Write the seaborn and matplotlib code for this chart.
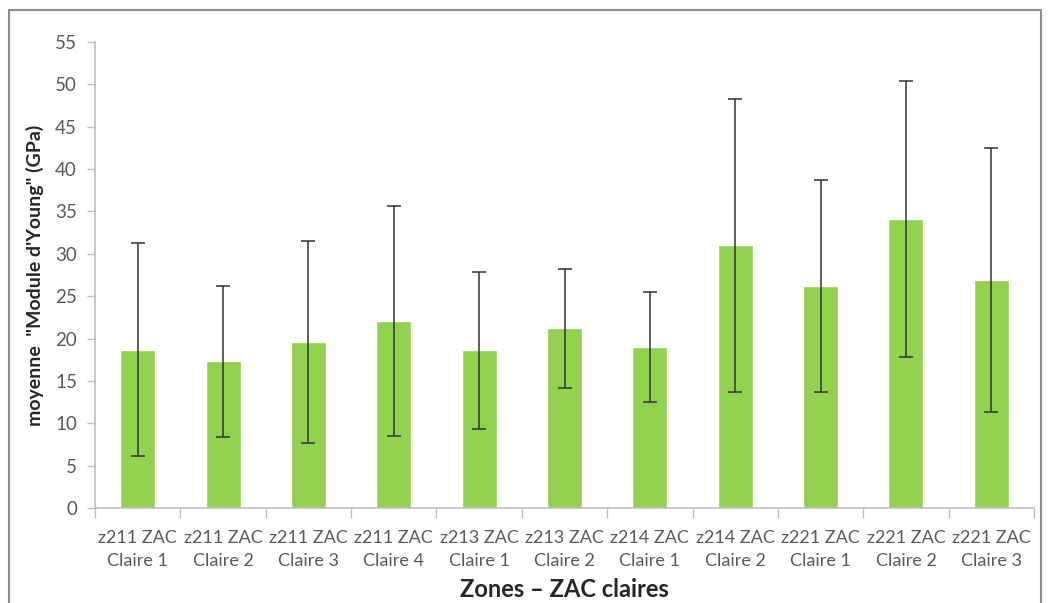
import numpy as np
import pandas as pd
import seaborn as sns
import matplotlib.pyplot as plt
from matplotlib.patches import Rectangle

# valeurs
zones = ["z211 ZAC\nClaire 1", "z211 ZAC\nClaire 2", "z211 ZAC\nClaire 3",
         "z211 ZAC\nClaire 4", "z213 ZAC\nClaire 1", "z213 ZAC\nClaire 2",
         "z214 ZAC\nClaire 1", "z214 ZAC\nClaire 2", "z221 ZAC\nClaire 1",
         "z221 ZAC\nClaire 2", "z221 ZAC\nClaire 3"]
moyenne = [18.7, 17.3, 19.6, 22.1, 18.6, 21.2, 19.0, 31.0, 26.2, 34.1, 26.9]
ecart_type = [12.6, 8.9, 11.9, 13.6, 9.3, 7.0, 6.5, 17.3, 12.5, 16.3, 15.6]

df = pd.DataFrame({"zone": zones, "moyenne": moyenne, "sd": ecart_type})

sns.set_style("white")
plt.rcParams['font.family'] = ['Lato', 'DejaVu Sans']

fig = plt.figure(figsize=(10.49, 6.03), dpi=100)
ax = fig.add_axes([95 / 1049, 1 - 508 / 603, 939 / 1049, 466 / 603])

sns.barplot(data=df, x="zone", y="moyenne", color="#92D050", saturation=1,
            width=0.41, errorbar=None, ax=ax)
ax.errorbar(x=np.arange(len(zones)), y=df["moyenne"], yerr=df["sd"],
            fmt="none", ecolor="#333333", elinewidth=1.1, capsize=5, capthick=1.1)

ax.set_ylim(0, 55)
ax.set_yticks(np.arange(0, 56, 5))
ax.set_xlim(-0.5, len(zones) - 0.5)

# axes style Excel
for s in ["top", "right"]:
    ax.spines[s].set_visible(False)
for s in ["left", "bottom"]:
    ax.spines[s].set_color("#bfbfbf")
    ax.spines[s].set_linewidth(1.2)

ax.tick_params(axis="y", direction="out", length=6, width=1, color="#bfbfbf",
               labelsize=13.5, labelcolor="#595959", pad=7, left=True)
ax.set_xticks(np.arange(len(zones)))
ax.set_xticklabels(zones, linespacing=1.5)
ax.set_xticks(np.arange(-0.5, len(zones)), minor=True)
ax.tick_params(axis="x", which="major", length=0, labelsize=13,
               labelcolor="#595959", pad=16)
ax.tick_params(axis="x", which="minor", direction="out", length=7, width=1,
               color="#bfbfbf", bottom=True)

ax.set_ylabel('moyenne  "Module d\'Young" (GPa)', fontsize=14, fontweight="bold",
              labelpad=8)
ax.set_xlabel("Zones \u2013 ZAC claires", fontsize=17, fontweight="bold", labelpad=7)

# cadre du graphique
fig.patches.append(Rectangle((9 / 1049, -0.05), 1032 / 1049, 1 - 10 / 603 + 0.05,
                             transform=fig.transFigure, fill=False,
                             edgecolor="#8c8c8c", linewidth=1.5))

fig.savefig("out.png", dpi=100)
